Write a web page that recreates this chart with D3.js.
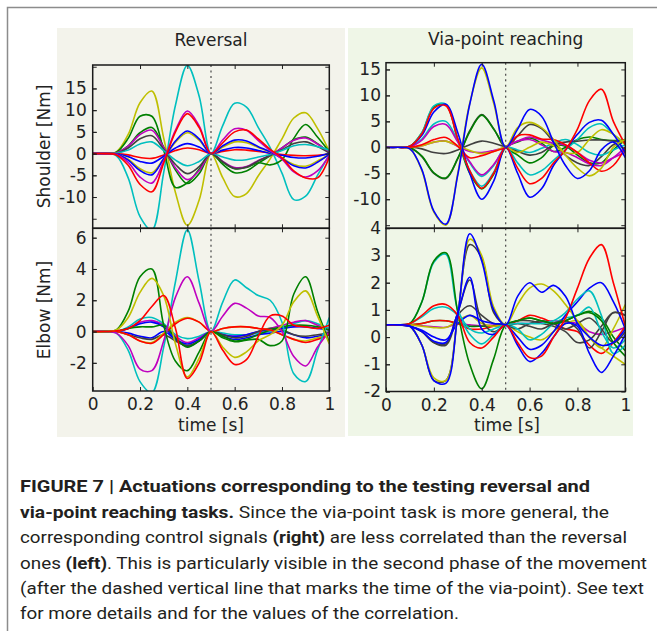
<!DOCTYPE html>
<html>
<head>
<meta charset="utf-8">
<script src="https://cdn.jsdelivr.net/npm/d3@7"></script>
<style>
body { margin: 0; background: #fff; }
svg { display: block; }
</style>
</head>
<body>
<div id="chart"></div>
<script>
// sample times [s], shared by every curve
var time = [0, 0.05, 0.1, 0.15, 0.2, 0.25, 0.3, 0.35, 0.4, 0.45, 0.5, 0.55, 0.6, 0.65, 0.7, 0.75, 0.8, 0.85, 0.9, 0.95, 1];

// Reversal, shoulder torque [Nm]
var revShoulderColors = ['y', 'c', 'g', 'g', 'm', 'k', 'c', 'r', 'b', 'y', 'b', 'm', 'r'];
var revShoulder = [
	[0, 0, 0.4, 4.4, 11.7, 14.4, 3.6, -9, -16.5, -10.7, 0, -5.6, -9.9, -9.2, -5.1, -1.2, 3.4, 8.2, 9.4, 5.8, 0.5],
	[0, 0, -0.5, -5.6, -14.5, -17.6, -4.4, 11.2, 20.3, 13.2, 0, 6.5, 11.6, 10.7, 6, 1.4, -4.5, -10.6, -9.8, -5, -0.3],
	[0, 0, 0.3, 3.5, 8.6, 8.6, 0.8, -7.8, -6.7, -3.6, 0, -2, -3.5, -3.2, -2.1, -2.6, -1.4, 3.5, 6.7, 3.8, 0.4],
	[0, 0, 0.2, 1.8, 4.8, 6, 1.5, -3.8, -6.9, -4.6, 0, -2.5, -4.4, -4, -2.2, -0.5, 1.3, 3.2, 3.8, 2.3, 0.2],
	[0, 0, 0.2, 1.7, 4.4, 5.4, 1.4, -3.3, -6, -3.9, 0, -1.8, -3.2, -3, -1.6, -0.4, 1.3, 3.1, 3.6, 2.2, 0.2],
	[0, 0, 0.1, 1.3, 3.4, 4.1, 1, -2.5, -4.6, -3, 0, -1.9, -3.4, -3.1, -1.7, -0.4, 0.9, 2.3, 2.7, 1.6, 0.1],
	[0, 0, 0.1, 0.8, 2.2, 2.7, 0.7, -1.5, -2.8, -1.8, 0, -0.8, -1.5, -1.4, -0.8, -0.2, 0.7, 1.8, 2.1, 1.6, 0.8],
	[0, 0, 0, -0.3, -0.9, -1.1, -0.3, 0.7, 1.3, 0.9, 0, 0.5, 0.9, 0.8, 0.5, 0.1, -0.2, -0.4, -0.5, -0.4, -0.1],
	[0, 0, -0.1, -0.7, -1.8, -2.2, -0.6, 1.3, 2.3, 1.5, 0, 0.8, 1.4, 1.3, 0.7, 0.1, -0.4, -0.9, -1, -0.6, 0],
	[0, 0, -0.1, -1.3, -3.5, -4.4, -1.1, 2.6, 4.8, 3.1, 0, 1.5, 2.7, 2.5, 1.4, 0.3, -1, -2.5, -2.9, -1.7, -0.2],
	[0, 0, -0.1, -1.5, -3.9, -4.9, -1.2, 2.9, 5.2, 3.4, 0, 1.8, 3.1, 2.9, 1.6, 0.4, -1.1, -2.8, -3.3, -2, -0.2],
	[0, 0, -0.2, -2, -5.4, -6.8, -1.7, 5.4, 9.8, 6.4, 0, 3.2, 5.7, 5.4, 3, 0.7, -1.3, -4.2, -5.4, -4, -0.4],
	[0, 0, -0.3, -2.7, -7.1, -8.8, -2.2, 5, 9.2, 6, 0, 2.5, 5, 5.4, 3.4, 1, -1, -4, -5.6, -5.6, -0.8]
];

// Reversal, elbow torque [Nm]
var revElbowColors = ['c', 'm', 'b', 'b', 'k', 'g', 'y', 'r', 'c', 'm', 'g', 'y', 'r'];
var revElbow = [
	[0, 0, 0, 0.3, 0.8, 0.9, 0.5, -0.2, -0.45, -0.3, 0, -0.1, -0.2, -0.2, -0.1, 0, 0.2, 0.5, 0.7, 0.5, 0.2],
	[0, 0, 0, 0.2, 0.6, 0.7, 0.4, -0.3, -0.7, -0.4, 0, -0.2, -0.3, -0.2, 0, 0.2, 0.4, 0.6, 0.7, 0.4, 0.1],
	[0, 0, 0, 0.2, 0.5, 0.6, 0.3, -0.5, -0.95, -0.6, 0, -0.2, -0.3, -0.2, 0, 0.1, 0.2, 0.3, 0.3, 0.2, 0.1],
	[0, 0, 0, -0.1, -0.3, -0.4, 0, -0.5, -0.8, -0.5, 0, -0.3, -0.5, -0.4, -0.2, -0.1, 0, -0.2, -0.4, -0.3, -0.2],
	[0, 0, 0, -0.2, -0.4, -0.5, -0.2, -0.6, -0.9, -0.6, 0, -0.2, -0.4, -0.3, 0, 0.2, 0.1, -0.2, -0.3, -0.2, -0.1],
	[0, 0, 0, 0.2, 0.3, 0.3, 0.4, -0.4, -1, -0.6, 0, -0.3, -0.6, -0.5, -0.2, 0.1, 0.3, 0.4, 0.4, 0.3, 0.1],
	[0, 0, 0, -0.2, -0.6, -0.7, -0.1, 0.6, 0.9, 0.6, 0, 0.2, 0.3, 0.3, 0.2, 0.1, -0.2, -0.5, -0.6, -0.4, -0.2],
	[0, 0, 0, -0.2, -0.6, -0.75, -0.2, 0.5, 0.85, 0.6, 0, 0.2, 0.3, 0.3, 0.2, 0.1, -0.2, -0.5, -0.7, -0.5, -0.2],
	[0, 0, -0.1, -1.2, -3.2, -3.9, -1, 3.2, 6.5, 3.2, 0, 1.9, 3.3, 2.8, 2.3, 2, 0.6, -2.7, -3.2, -1.2, 0.9],
	[0, 0, -0.1, -0.9, -2.4, -2.5, -0.6, 2.2, 3.5, 1.8, 0, 1, 1.8, 1.5, 1, 0.9, 0, -1.6, -2.2, -1, 0],
	[0, 0, 0.1, 1.3, 3.5, 4, 0.4, -1.9, -2.5, -1.3, 0, -0.4, -0.65, -0.55, -0.5, -0.9, -0.6, 2.4, 3.5, 1.3, -0.7],
	[0, 0, 0.1, 0.9, 2.5, 3.4, 2.3, -0.8, -2.9, -1.7, 0, -1, -1.65, -1.3, -0.6, -0.2, 0.4, 1.9, 2.6, 1, -0.8],
	[0, 0, 0.05, 0.2, 0.7, 1.6, 2.3, 0.2, -3, -2, 0, -1.2, -2.1, -1.8, -0.3, 1, 1, 0.4, 0.3, 0.2, 0.4]
];

// Via-point reaching, shoulder torque [Nm]
var viaShoulderColors = ['k', 'g', 'g', 'c', 'c', 'm', 'm', 'k', 'y', 'r', 'b', 'r', 'y', 'b'];
var viaShoulder = [
	[0, 0, -0.1, -1.8, -5, -6, -2.2, 3.2, 6.3, 3.6, 0, 2.2, 4.4, 3.6, 1, -1.5, -3, -3.5, -1.8, 0.5, 1],
	[0, 0, -0.1, -1.7, -4.9, -5.9, -2.1, 3, 6.2, 3.5, 0, -1.5, -3, -2, 0.3, 0.2, -1.5, -3, -3, -0.5, 1.5],
	[0, 0, 0.2, 2.8, 7.8, 8.2, 1.5, -5, -8, -5.2, 0, 1, 1.8, 0.8, -0.8, 0, 1.5, 2, 1.5, 1.3, 1.5],
	[0, 0, 0.2, 2.8, 8, 8.3, 1.5, -4.5, -7.5, -4.8, 0, -3, -5.3, -4.5, -2.5, -0.5, 1.5, 3.8, 4.5, 2.5, 0.8],
	[0, 0, 0.1, 1.6, 4.5, 5, 1.2, -3, -5.6, -3.5, 0, -0.5, -1, -0.2, 0.8, 1.5, 0.5, -1, -1.5, -0.5, 0.5],
	[0, 0, 0.1, 1.4, 4, 4.4, 1, -2.8, -5.3, -3.3, 0, 1.2, 2, 1.4, 0.8, 0.4, -1, -2.5, -3, -2, -1],
	[0, 0, 0, 0.3, 1, 1.2, 0.2, -0.8, -1, -0.6, 0, 1.2, 1.5, 0.5, -0.8, -1, -2, -3.2, -3.5, -2, 0],
	[0, 0, 0, -0.3, -1, -1.2, -0.5, 0.5, 1.2, 0.8, 0, -0.8, -1.5, -1, 0.5, 1, 1.2, 1.4, 1.4, 1.2, 1],
	[0, 0, 0, 0.3, 1, 1.2, 0.3, -0.6, -1.2, -0.8, 0, -1, 0, 1, 0.3, -1, -1, 1.5, 3.4, 2.5, 0.5],
	[0, 0, 0, 0.5, 1.5, 1.9, 0.2, -2, -1.6, -0.8, 0, 2.2, 2.4, 1.6, 1.5, 0.5, -1, -3, -4.6, -3.5, 0],
	[0, 0, 0.2, 2.3, 6.8, 8.3, 2.8, -5, -10, -6.5, 0, -5, -9.6, -8, -3.5, -0.5, 2.5, 4.8, 5.2, 2.5, -1],
	[0, 0, 0.2, 2.6, 7.5, 8, 1.6, -4.5, -7.9, -5, 0, -4, -7, -6, -3, -0.5, 3.5, 9, 11.2, 5, 0.5],
	[0, 0, -0.3, -4.5, -12.5, -15, -5, 8.5, 15.3, 8.5, 0, 3.8, 4.8, 3.8, 1.5, -1.5, -4, -5.5, -4, 0, 1.5],
	[0, 0, -0.3, -4.3, -12.3, -14.8, -5.3, 8.3, 16, 9, 0, 3.5, 7.3, 6, 1, -3.5, -6, -4.5, -0.5, 1, -2]
];

// Via-point reaching, elbow torque [Nm]
var viaElbowColors = ['m', 'g', 'r', 'y', 'k', 'k', 'c', 'b', 'k', 'y', 'c', 'g', 'b', 'r', 'b'];
var viaElbow = [
	[0.45, 0.45, 0.45, 0.42, 0.38, 0.36, 0.5, 0.45, 0.42, 0.44, 0.45, 0.5, 0.5, 0.55, 0.6, 0.55, 0.5, 0.2, 0.1, 0.2, 0.35],
	[0.45, 0.45, 0.45, 0.5, 0.6, 0.6, 0.5, 0.4, 0.4, 0.42, 0.45, 0.6, 0.7, 0.6, 0.5, 0.6, 0.8, 0.95, 0.7, 0, -0.5],
	[0.45, 0.45, 0.45, 0.5, 0.6, 0.6, 0.5, 0.3, 0.3, 0.4, 0.45, 0.6, 0.8, 0.7, 0.5, 0.3, 0.2, -0.3, -0.6, -0.2, 0.4],
	[0.45, 0.45, 0.45, 0.4, 0.35, 0.35, 0.6, 0.8, 0.5, 0.4, 0.45, 0.2, 0, -0.1, 0.2, 0.5, 0.6, 0, -0.4, 0.3, 1.2],
	[0.45, 0.45, 0.4, 0.2, -0.2, -0.25, 0.8, 1.15, 0.8, 0.5, 0.45, 0.3, 0.5, 0.6, 0.5, 0.3, 0.5, 0.7, 0.3, -0.2, 0.2],
	[0.45, 0.45, 0.4, 0.2, -0.2, -0.3, 0.9, 2.1, 0.6, 0.2, 0.45, 0.6, 0.6, 0.5, 0.4, 0.2, -0.2, -0.1, 0.4, 0.9, 0.8],
	[0.45, 0.45, 0.5, 0.75, 1.05, 1.1, 0.8, 0.1, -0.25, 0.1, 0.45, 0.3, -0.1, 0.1, 0.5, 0.7, 0.8, 1.1, 0.2, -0.4, -0.1],
	[0.45, 0.45, 0.4, 0.25, 0, -0.1, 0.5, 0.8, 0.6, 0.5, 0.45, 0, -0.45, -0.3, 0.2, 0.8, 1.3, 1.8, 2, 1.3, 0.3],
	[0.45, 0.45, 0.4, -0.3, -1.6, -1.6, 0.8, 3.4, 2.9, 0.9, 0.45, 0.5, 0.4, 0.3, 0.5, 0.6, 0.3, -0.4, 0.2, 0.9, 0.8],
	[0.45, 0.45, 0.4, -0.3, -1.5, -1.6, 0.8, 3.6, 3, 1.1, 0.45, 1.2, 1.8, 1.95, 1.7, 1.2, 0.6, 0, -0.4, -0.7, -1],
	[0.45, 0.45, 0.5, 1.3, 2.75, 3.05, 1, 0.3, 0.15, 0.3, 0.45, 0.5, 0.5, 0.5, 0.6, 0.9, 1.4, 1.7, 0.8, -0.6, -0.3],
	[0.45, 0.45, 0.5, 1.3, 2.8, 3.1, 0.9, -1, -1.9, -0.8, 0.45, 0.6, 0.7, 0.6, 0.5, 0.6, 0.8, 0.9, 0.6, -0.2, -0.7],
	[0.45, 0.45, 0.4, 0.2, -0.15, -0.2, 0.9, 2.2, 0.3, 0.1, 0.45, -0.3, -0.9, -0.6, 0, 0.5, 0.4, -0.6, -1.3, -0.7, 0.1],
	[0.45, 0.45, 0.5, 0.8, 1.15, 1.2, 0.8, -0.2, -0.4, 0, 0.45, -0.2, -0.75, -0.7, 0, 0.7, 1.8, 2.9, 3.4, 2, 0.4],
	[0.45, 0.45, 0.4, -0.3, -1.6, -1.7, 0.8, 3.8, 2.8, 1, 0.45, 1.5, 2, 1.65, 1.9, 1.5, 0.5, 0, -0.3, -0.2, 0.3]
];

var timeTicks = [0, 0.2, 0.4, 0.6, 0.8, 1];
var revShoulderTicks = [-10, -5, 0, 5, 10, 15];
var revElbowTicks = [-2, 0, 2, 4, 6];
var viaShoulderTicks = [-10, -5, 0, 5, 10, 15];
var viaElbowTicks = [-2, -1, 0, 1, 2, 3, 4];

var caption = [
	[['FIGURE 7 | Actuations corresponding to the testing reversal and', true]],
	[['via-point reaching tasks.', true], [' Since the via-point task is more general, the', false]],
	[['corresponding control signals ', false], ['(right)', true], [' are less correlated than the reversal', false]],
	[['ones ', false], ['(left)', true], ['. This is particularly visible in the second phase of the movement', false]],
	[['(after the dashed vertical line that marks the time of the via-point). See text', false]],
	[['for more details and for the values of the correlation.', false]]
];

var palette = {b: '#0000ff', g: '#008000', r: '#ff0000', c: '#00bfbf', m: '#bf00bf', y: '#bfbf00', k: '#404040'};
var font = '"DejaVu Sans", sans-serif';

var svg = d3.select('#chart').append('svg')
	.attr('width', 657)
	.attr('height', 631);

// page frame and panel backgrounds
svg.append('path')
	.attr('d', 'M7.5,631V7.5H657')
	.attr('fill', 'none')
	.attr('stroke', '#8c8c8c')
	.attr('stroke-width', 1.5);
svg.append('rect').attr('x', 57).attr('y', 28).attr('width', 288).attr('height', 409).attr('fill', '#f3f3eb');
svg.append('rect').attr('x', 348).attr('y', 28).attr('width', 285).attr('height', 408).attr('fill', '#eff6e7');

var clipCount = 0;

function plot(o) {
	var x = d3.scaleLinear().domain([0, 1]).range([o.x0, o.x1]);
	var y = d3.scaleLinear().domain(o.domain).range([o.y1, o.y0]);
	var id = 'clip' + (clipCount++);

	svg.append('clipPath').attr('id', id)
		.append('rect')
			.attr('x', o.x0).attr('y', o.y0)
			.attr('width', o.x1 - o.x0).attr('height', o.y1 - o.y0);

	var line = d3.line()
		.x(function(d, i) { return x(time[i]); })
		.y(function(d) { return y(d); })
		.curve(d3.curveCatmullRom.alpha(0.5));

	svg.append('g')
		.attr('clip-path', 'url(#' + id + ')')
		.selectAll('path').data(o.series)
		.enter().append('path')
			.attr('d', line)
			.attr('fill', 'none')
			.attr('stroke', function(d, i) { return palette[o.colors[i]]; })
			.attr('stroke-width', 1.6);

	// via-point time
	svg.append('line')
		.attr('x1', x(0.5)).attr('x2', x(0.5))
		.attr('y1', o.y0).attr('y2', o.y1)
		.attr('stroke', '#555')
		.attr('stroke-width', 1.3)
		.attr('stroke-dasharray', '2,3.5');

	var inner = timeTicks.slice(1, -1);
	var allTicks = d3.range(Math.ceil(o.domain[0] / o.step) * o.step, o.domain[1], o.step);

	function axis(gen, tx, ty) {
		var g = svg.append('g')
			.attr('transform', 'translate(' + tx + ',' + ty + ')')
			.call(gen)
			.attr('color', '#222')
			.attr('font-family', font)
			.attr('font-size', 17);
		g.select('.domain').remove();
		g.selectAll('text').attr('fill', '#222');
		return g;
	}

	axis(d3.axisLeft(y).tickValues(allTicks).tickSize(-4).tickFormat(''), o.x0, 0);
	axis(d3.axisLeft(y).tickValues(o.labels).tickSize(-4).tickPadding(o.pad)
		.tickFormat(function(d) { return String(d); }), o.x0, 0);
	axis(d3.axisRight(y).tickValues(allTicks).tickSize(-4).tickFormat(''), o.x1, 0);
	axis(d3.axisTop(x).tickValues(inner).tickSize(-4).tickFormat(''), 0, o.y0);
	if (o.xlabels) {
		axis(d3.axisBottom(x).tickValues(timeTicks).tickSize(-4).tickPadding(7)
			.tickFormat(function(d) { return String(d); }), 0, o.y1);
	} else {
		axis(d3.axisBottom(x).tickValues(inner).tickSize(-4).tickFormat(''), 0, o.y1);
	}

	svg.append('rect')
		.attr('x', o.x0).attr('y', o.y0)
		.attr('width', o.x1 - o.x0).attr('height', o.y1 - o.y0)
		.attr('fill', 'none')
		.attr('stroke', '#1a1a1a')
		.attr('stroke-width', 1.5);
}

plot({x0: 92.7, x1: 329.3, y0: 65, y1: 228.3, domain: [-17.2, 20.4], step: 5,
	labels: revShoulderTicks, pad: 6, series: revShoulder, colors: revShoulderColors});
plot({x0: 92.7, x1: 329.3, y0: 228.3, y1: 391, domain: [-3.8, 6.6], step: 2,
	labels: revElbowTicks, pad: 6, series: revElbow, colors: revElbowColors, xlabels: true});
plot({x0: 386, x1: 625.3, y0: 62.7, y1: 228.3, domain: [-15.6, 16.3], step: 5,
	labels: viaShoulderTicks, pad: 5, series: viaShoulder, colors: viaShoulderColors});
plot({x0: 386, x1: 625.3, y0: 228.3, y1: 391.5, domain: [-2, 4], step: 1,
	labels: viaElbowTicks, pad: 5, series: viaElbow, colors: viaElbowColors, xlabels: true});

function label(txt, x, y, rotate) {
	var t = svg.append('text')
		.attr('font-family', font)
		.attr('font-size', 17)
		.attr('fill', '#222')
		.attr('text-anchor', 'middle')
		.text(txt);
	if (rotate) t.attr('transform', 'translate(' + x + ',' + y + ') rotate(-90)');
	else t.attr('x', x).attr('y', y);
}

label('Reversal', 211, 45.5);
label('Via-point reaching', 505.7, 44.5);
label('Shoulder [Nm]', 50, 146.5, true);
label('Elbow [Nm]', 50, 310, true);
label('time [s]', 211, 430.5);
label('time [s]', 507, 430.5);

// caption
var capBase = [492, 518, 543, 569, 594, 619];
var capWidth = [570, 589, 607, 627, 624, 439];
caption.forEach(function(parts, i) {
	var t = svg.append('text')
		.attr('x', 20)
		.attr('y', capBase[i])
		.attr('font-family', '"Liberation Sans Narrow", "Roboto", "Liberation Sans", sans-serif')
		.attr('font-size', 17)
		.attr('fill', '#231f20')
		.attr('textLength', capWidth[i])
		.attr('lengthAdjust', 'spacingAndGlyphs');
	parts.forEach(function(p) {
		t.append('tspan')
			.attr('font-weight', p[1] ? 'bold' : 'normal')
			.text(p[0]);
	});
});
</script>
</body>
</html>
